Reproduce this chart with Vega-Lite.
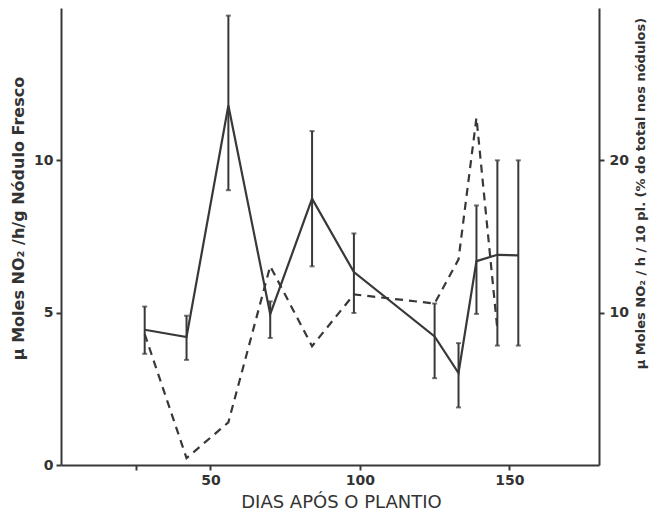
{
  "$schema": "https://vega.github.io/schema/vega-lite/v6.json",
  "width": 538,
  "height": 457,
  "autosize": {"type": "none"},
  "padding": {"left": 61, "top": 8, "right": 62, "bottom": 50},
  "background": "white",
  "config": {
    "view": {"stroke": null},
    "axis": {
      "grid": false,
      "domainColor": "#383838",
      "domainWidth": 2,
      "tickColor": "#383838",
      "tickWidth": 2,
      "tickSize": 5,
      "labelColor": "#333333",
      "titleColor": "#333333",
      "labelFont": "DejaVu Sans",
      "titleFont": "DejaVu Sans",
      "labelFontSize": 14,
      "labelFontWeight": "bold"
    }
  },
  "data": {
    "values": [
      {"day": 28, "solid": 4.44, "lo": 3.65, "hi": 5.2, "dashed": 8.6},
      {"day": 42, "solid": 4.2, "lo": 3.45, "hi": 4.9, "dashed": 0.45},
      {"day": 56, "solid": 11.8, "lo": 9.02, "hi": 14.75, "dashed": 2.8},
      {"day": 70, "solid": 4.95, "lo": 4.17, "hi": 5.37, "dashed": 13.05},
      {"day": 84, "solid": 8.74, "lo": 6.52, "hi": 10.96, "dashed": 7.8},
      {"day": 98, "solid": 6.33, "lo": 4.99, "hi": 7.6, "dashed": 11.2},
      {"day": 125, "solid": 4.22, "lo": 2.85, "hi": 5.3, "dashed": 10.6},
      {"day": 133, "solid": 3.02, "lo": 1.89, "hi": 4.0, "dashed": 13.5},
      {"day": 139, "solid": 6.69, "lo": 4.96, "hi": 8.52, "dashed": 22.8},
      {"day": 146, "solid": 6.9, "lo": 3.92, "hi": 10.0, "dashed": 8.9},
      {"day": 153, "solid": 6.88, "lo": 3.92, "hi": 10.0, "dashed": null}
    ]
  },
  "layer": [
    {
      "layer": [
        {
          "mark": {"type": "line", "color": "#383838", "strokeWidth": 2.2},
          "encoding": {
            "x": {
              "field": "day", "type": "quantitative",
              "scale": {"domain": [0, 180], "nice": false},
              "axis": {
                "values": [25, 50, 100, 150],
                "labelExpr": "datum.value == 25 ? '' : datum.label",
                "labelPadding": 3,
                "title": "DIAS  APÓS O PLANTIO",
                "titleFontSize": 18,
                "titleFontWeight": "normal",
                "titlePadding": 6,
                "titleX": 280
              }
            },
            "y": {
              "field": "solid", "type": "quantitative",
              "title": "μ Moles NO₂ /h/g Nódulo Fresco",
              "scale": {"domain": [0, 15], "nice": false},
              "axis": {
                "orient": "left",
                "values": [0, 5, 10],
                "labelPadding": 3,
                "titleFontSize": 16,
                "titleFontWeight": "bold",
                "titlePadding": 7,
                "titleY": 210
              }
            }
          }
        },
        {
          "mark": {"type": "errorbar", "color": "#383838", "thickness": 2, "ticks": {"size": 5, "thickness": 2}},
          "encoding": {
            "x": {"field": "day", "type": "quantitative"},
            "y": {"field": "lo", "type": "quantitative", "title": "μ Moles NO₂ /h/g Nódulo Fresco"},
            "y2": {"field": "hi"}
          }
        }
      ]
    },
    {
      "mark": {"type": "line", "color": "#383838", "strokeWidth": 2.2, "strokeDash": [8, 6]},
      "encoding": {
        "x": {"field": "day", "type": "quantitative"},
        "y": {
          "field": "dashed", "type": "quantitative",
          "scale": {"domain": [0, 30], "nice": false},
          "axis": {
            "orient": "right",
            "values": [10, 20],
            "labelPadding": 5,
            "title": "μ Moles NO₂ / h / 10 pl. (% do total nos nódulos)",
            "titleFontSize": 13,
            "titleFontWeight": "bold",
            "titleAngle": 270,
            "titlePadding": 19,
            "titleY": 185
          }
        }
      }
    }
  ],
  "resolve": {"scale": {"y": "independent"}}
}
